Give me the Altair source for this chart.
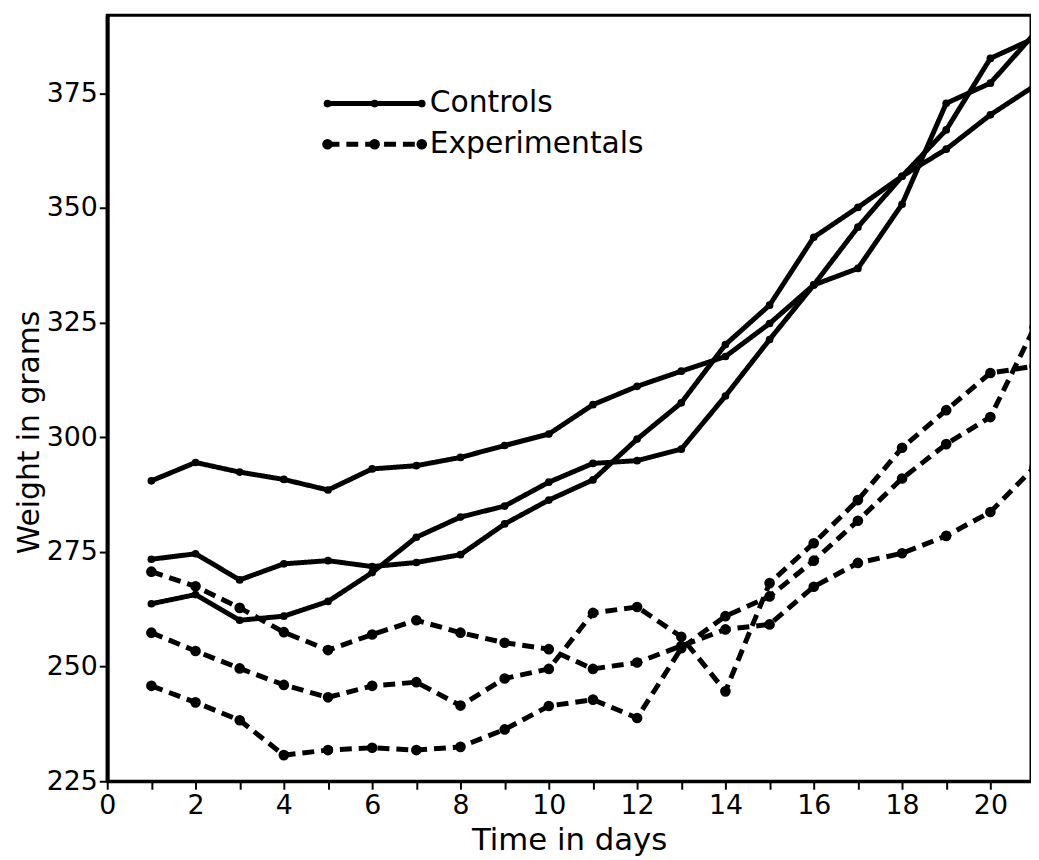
import altair as alt
import pandas as pd

# ---------------- data ----------------
days = list(range(1, 22))

control_1 = [290.5, 294.5, 292.4, 290.8, 288.5, 293.1, 293.8, 295.6, 298.2, 300.7, 307.1,
             311.1, 314.4, 317.6, 324.8, 333.2, 345.8, 356.9, 362.8, 370.3, 376.6]
control_2 = [273.4, 274.6, 268.9, 272.4, 273.1, 271.8, 272.7, 274.4, 281.1, 286.3, 290.7,
             299.6, 307.5, 320.2, 328.8, 343.6, 350.1, 356.9, 367.0, 382.6, 387.0]
control_3 = [263.7, 265.7, 260.1, 261.0, 264.2, 270.5, 278.2, 282.6, 285.0, 290.2, 294.3,
             294.9, 297.4, 309.0, 321.3, 333.2, 336.8, 350.8, 372.8, 377.2, 388.0]

exper_1 = [270.7, 267.5, 262.8, 257.5, 253.6, 257.0, 260.1, 257.4, 255.2, 253.8, 249.5,
           250.9, 254.5, 258.1, 259.2, 267.4, 272.6, 274.7, 278.5, 283.7, 293.5]
exper_2 = [257.4, 253.4, 249.6, 246.0, 243.3, 245.8, 246.6, 241.5, 247.4, 249.5, 261.7,
           263.0, 256.5, 244.6, 268.2, 276.9, 286.3, 297.7, 305.9, 314.0, 315.5]
exper_3 = [245.8, 242.2, 238.3, 230.7, 231.8, 232.3, 231.8, 232.5, 236.3, 241.4, 242.8,
           238.8, 254.0, 261.0, 265.3, 273.1, 281.8, 291.0, 298.5, 304.4, 324.0]

groups = ["Controls", "Experimentals"]
y_ticks = [225, 250, 275, 300, 325, 350, 375]
x_ticks = list(range(0, 21))

series = [
    ("E1", groups[1], exper_1),
    ("E2", groups[1], exper_2),
    ("E3", groups[1], exper_3),
    ("C1", groups[0], control_1),
    ("C2", groups[0], control_2),
    ("C3", groups[0], control_3),
]
rows = []
for name, grp, vals in series:
    for d, v in zip(days, vals):
        rows.append({"day": d, "weight": v, "series": name, "group": grp})
df = pd.DataFrame(rows)

FONT = "DejaVu Sans"
DASHES = [[1, 0], [12, 7]]
DOT_SIZES = [60, 115]

x_enc = alt.X(
    "day:Q",
    scale=alt.Scale(domain=[0, 20.92], nice=False, zero=False),
    axis=alt.Axis(
        values=x_ticks,
        labelExpr="datum.value % 2 == 0 ? datum.label : ''",
        title="Time in days",
        titleFontSize=31,
        titlePadding=8,
        labelFontSize=27,
        labelPadding=3,
        labelFlush=False,
    ),
)
y_enc = alt.Y(
    "weight:Q",
    scale=alt.Scale(domain=[225, 392], nice=False, zero=False),
    axis=alt.Axis(
        values=y_ticks,
        title="Weight in grams",
        titleFontSize=30,
        titleAngle=-90,
        titleX=-78,
        titleY=420,
        titleAlign="center",
        titleBaseline="middle",
        labelFontSize=27,
        labelPadding=2,
        labelFlush=False,
        domainWidth=4,
    ),
)

lines = alt.Chart(df).mark_line(color="black", strokeWidth=5, clip=True).encode(
    x=x_enc,
    y=y_enc,
    detail="series:N",
    strokeDash=alt.StrokeDash(
        "group:N", scale=alt.Scale(domain=groups, range=DASHES), legend=None
    ),
)

points = alt.Chart(df).mark_circle(color="black", opacity=1, clip=True).encode(
    x="day:Q",
    y="weight:Q",
    size=alt.Size("group:N", scale=alt.Scale(domain=groups, range=DOT_SIZES), legend=None),
)

# ---------------- hand-drawn style legend (key line with dots + label) ----------------
one = alt.Data(values=[{}])
legend_layers = []
for label, row_y, dash, dot in zip(groups, [89, 130], DASHES, DOT_SIZES):
    legend_layers.append(
        alt.Chart(one).mark_rule(color="black", strokeWidth=5, strokeDash=dash).encode(
            x=alt.value(222), x2=alt.value(317), y=alt.value(row_y)
        )
    )
    for px in (222, 269.5, 317):
        legend_layers.append(
            alt.Chart(one).mark_circle(color="black", opacity=1, size=dot).encode(
                x=alt.value(px), y=alt.value(row_y)
            )
        )
    legend_layers.append(
        alt.Chart(one).mark_text(
            align="left", baseline="middle", fontSize=30, font=FONT, color="black"
        ).encode(x=alt.value(325), y=alt.value(row_y), text=alt.value(label))
    )

chart = (
    alt.layer(lines, points, *legend_layers)
    .properties(
        width=931,
        height=772,
        autosize=alt.AutoSizeParams(type="none"),
        padding={"left": 100, "top": 4, "right": 0, "bottom": 72},
        background="white",
    )
    .configure_view(stroke="black", strokeWidth=3)
    .configure_axis(
        grid=False,
        domainColor="black",
        domainWidth=3,
        tickColor="black",
        tickWidth=2,
        tickSize=8,
        labelColor="black",
        titleColor="black",
        labelFont=FONT,
        titleFont=FONT,
        titleFontWeight="normal",
    )
)

chart.save("out.html", embed_options={"renderer": "svg", "actions": False})
